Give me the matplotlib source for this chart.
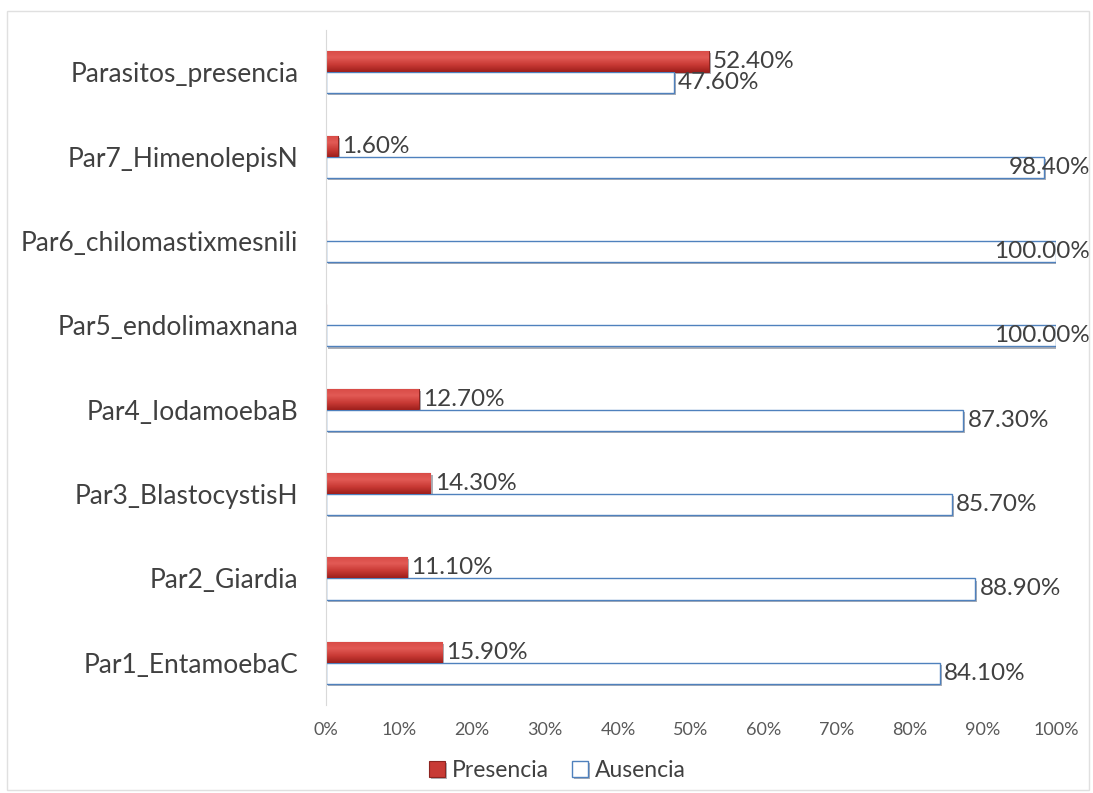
import numpy as np
import matplotlib.pyplot as plt
import matplotlib.patheffects as pe
from matplotlib.colors import LinearSegmentedColormap
from matplotlib.patches import Rectangle
from matplotlib.ticker import PercentFormatter

categorias = ["Par1_EntamoebaC", "Par2_Giardia", "Par3_BlastocystisH",
              "Par4_IodamoebaB", "Par5_endolimaxnana", "Par6_chilomastixmesnili",
              "Par7_HimenolepisN", "Parasitos_presencia"]
presencia = [15.9, 11.1, 14.3, 12.7, 0.0, 0.0, 1.6, 52.4]
ausencia = [84.1, 88.9, 85.7, 87.3, 100.0, 100.0, 98.4, 47.6]

plt.rcParams['font.family'] = ['Lato', 'DejaVu Sans']

fig = plt.figure(figsize=(10.93, 7.93), dpi=100)
ax = fig.add_axes([0.2983, 0.111, 0.6679, 0.851])

y = list(range(len(categorias)))
alto = 0.25
sombra = [pe.SimplePatchShadow(offset=(1.5, -1.5), shadow_rgbFace='#8a8f99', alpha=0.7), pe.Normal()]

b1 = ax.barh([v + alto / 2 for v in y], presencia, height=alto, color='#C83A35',
             edgecolor='#8E2420', linewidth=0.8, label='Presencia', path_effects=sombra)
b2 = ax.barh([v - alto / 2 for v in y], ausencia, height=alto, color='white',
             edgecolor='#4F81BD', linewidth=1.0, label='Ausencia', path_effects=sombra)

# degradado vertical en las barras rojas
rojo = LinearSegmentedColormap.from_list('rojo', ['#9E1F1C', '#C93A35', '#E25A55', '#D84A45'])
grad = np.linspace(0, 1, 64).reshape(-1, 1)
for barra in b1:
    if barra.get_width() <= 0:
        continue
    x0, y0 = barra.get_x(), barra.get_y()
    img = ax.imshow(grad, cmap=rojo, aspect='auto', origin='lower', zorder=barra.get_zorder() + 0.1,
                    extent=(x0, x0 + barra.get_width(), y0, y0 + barra.get_height()))
    img.set_clip_path(barra)

# etiquetas de valor, las que no caben se pegan al borde derecho
for serie, desp in ((presencia, alto / 2), (ausencia, -alto / 2)):
    for i, v in enumerate(serie):
        if v == 0:
            continue
        if v > 90:
            ax.text(104.7, i + desp, f"{v:.2f}%", ha='right', va='center',
                    fontsize=17.5, color='#404040', clip_on=False)
        else:
            ax.text(v + 0.6, i + desp, f"{v:.2f}%", ha='left', va='center',
                    fontsize=17.5, color='#404040')

ax.set_xlim(0, 100)
ax.set_ylim(-0.5, len(categorias) - 0.5)
ax.set_yticks(y)
ax.set_yticklabels(categorias, fontsize=19, color='#404040')
ax.set_xticks(range(0, 101, 10))
ax.xaxis.set_major_formatter(PercentFormatter(decimals=0))
ax.tick_params(axis='x', length=0, pad=12, labelsize=13, labelcolor='#595959')
ax.tick_params(axis='y', length=0, pad=20)

for lado in ('top', 'right', 'bottom'):
    ax.spines[lado].set_visible(False)
ax.spines['left'].set_color('#D9D9D9')

fig.legend(handles=[b1, b2], loc='center', bbox_to_anchor=(0.51, 0.028), ncol=2,
           frameon=False, fontsize=16.5, handlelength=0.7, handleheight=0.7,
           handletextpad=0.3, columnspacing=1.0, labelcolor='#404040')

# marco del gráfico
fig.add_artist(Rectangle((0.006, 0.004), 0.99, 0.982, transform=fig.transFigure,
                         fill=False, edgecolor='#E0E0E0', linewidth=1.0))

fig.savefig("out.png", dpi=100)
